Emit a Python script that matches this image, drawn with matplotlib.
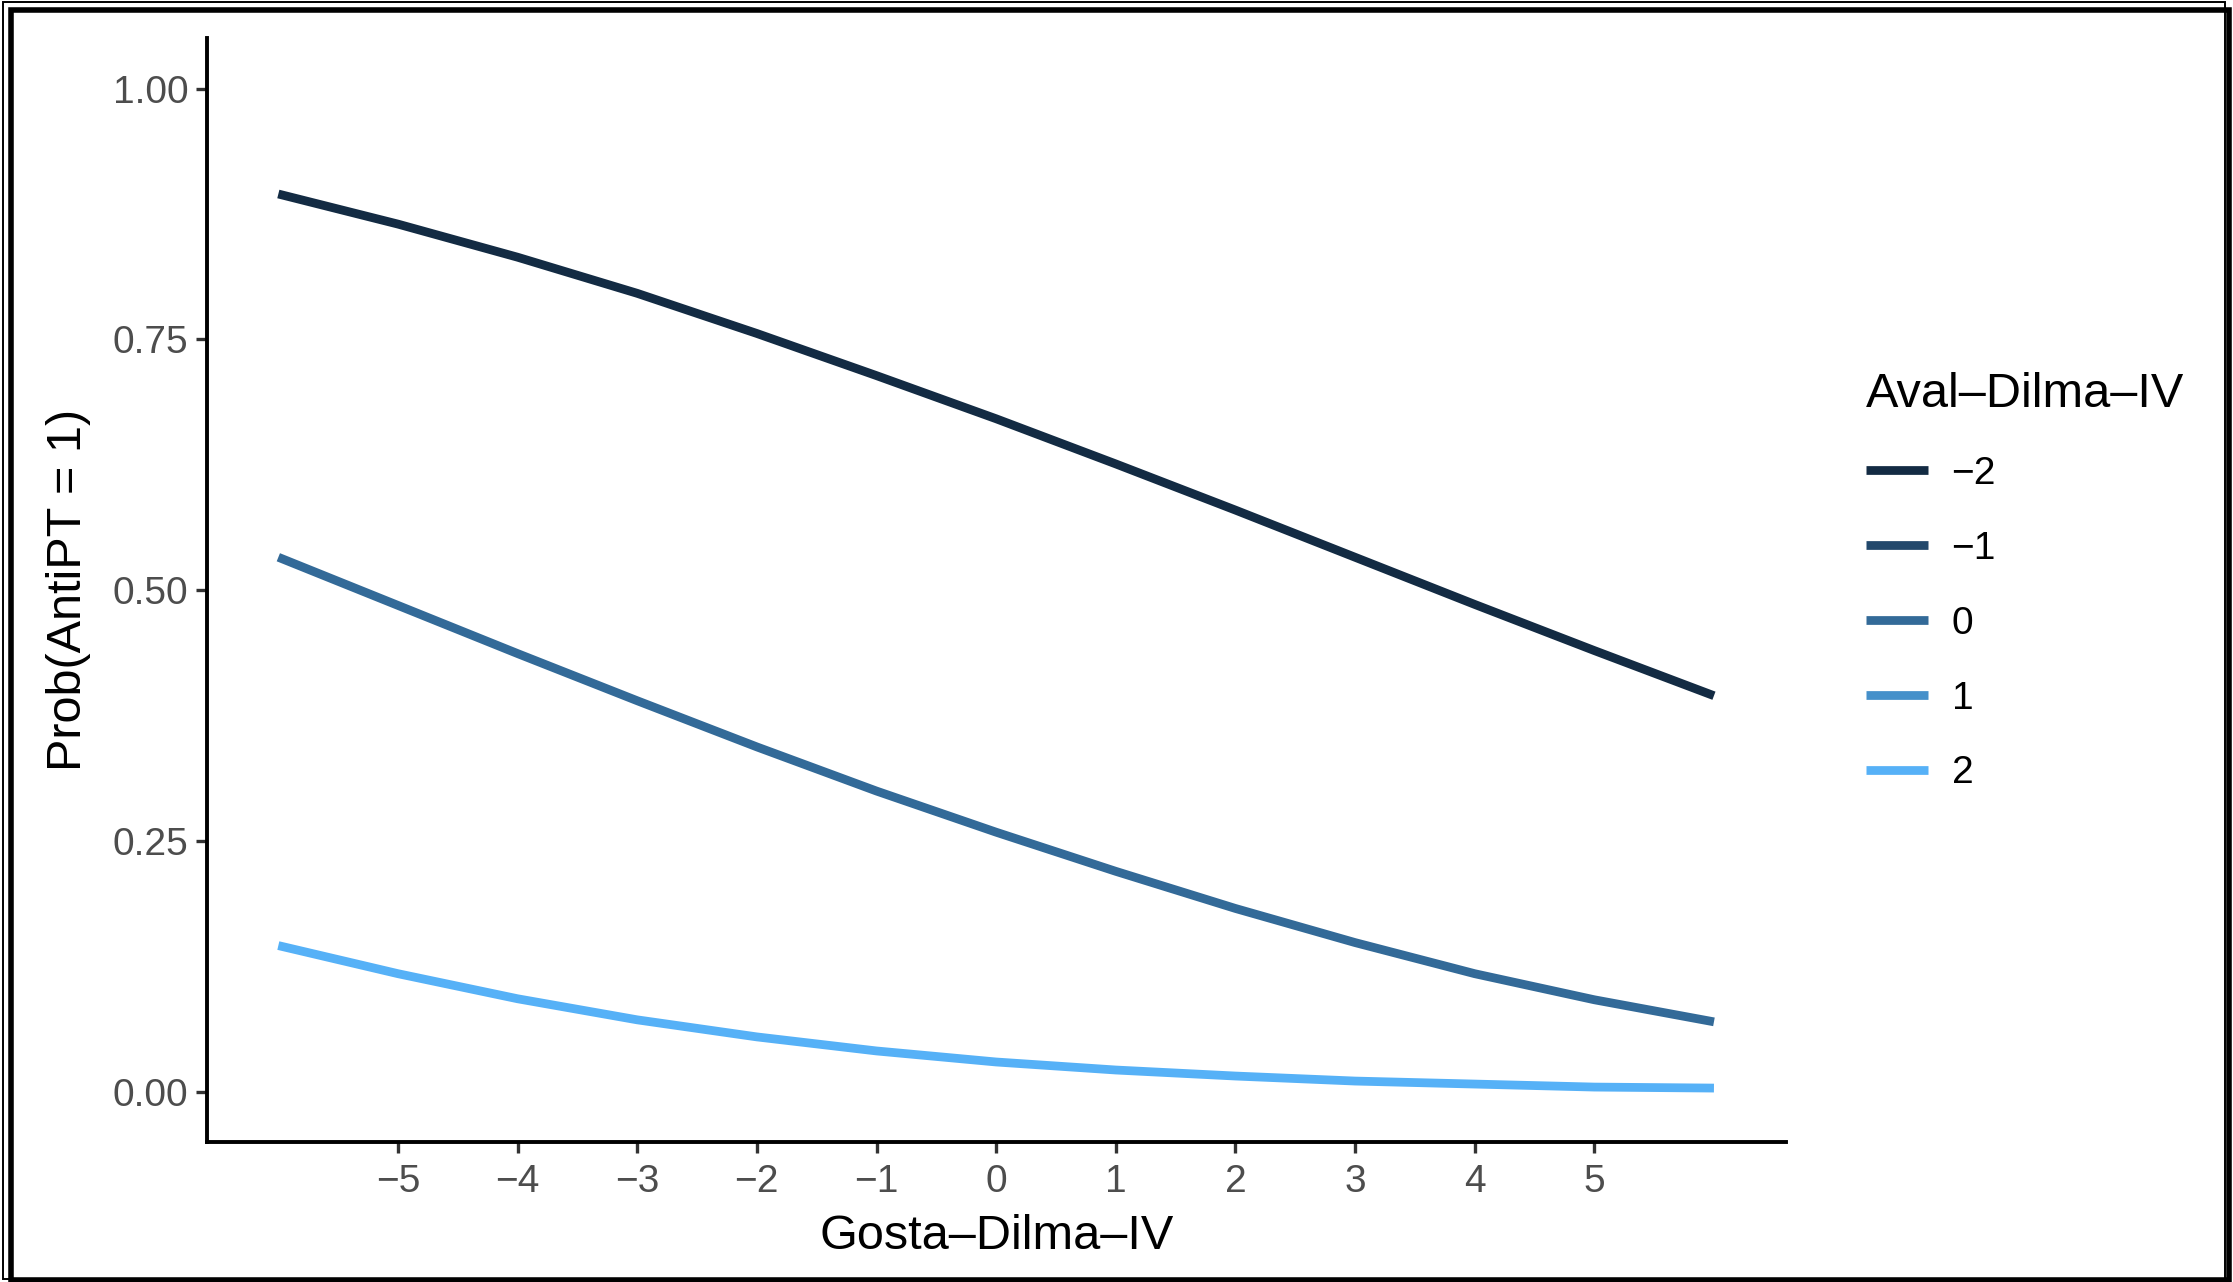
# encoding: utf-8

'''
predicted probability of AntiPT by Gosta-Dilma, for levels of Aval-Dilma
'''

import matplotlib
matplotlib.use('Agg')
import matplotlib.pyplot as plt
from matplotlib.lines import Line2D
from matplotlib.patches import Rectangle

# values
gosta = [-6, -5, -4, -3, -2, -1, 0, 1, 2, 3, 4, 5, 6]
prob_aval_m2 = [0.895, 0.865, 0.832, 0.796, 0.756, 0.714, 0.671, 0.626, 0.580, 0.533, 0.486, 0.440, 0.395]
prob_aval_0 = [0.533, 0.485, 0.437, 0.390, 0.344, 0.300, 0.259, 0.220, 0.183, 0.149, 0.118, 0.092, 0.070]
prob_aval_2 = [0.146, 0.118, 0.093, 0.072, 0.055, 0.041, 0.030, 0.022, 0.016, 0.011, 0.008, 0.005, 0.004]

aval_levels = ['\u22122', '\u22121', '0', '1', '2']
aval_colors = ['#132B43', '#22486C', '#336A98', '#4590CA', '#56B1F7']

x_ticks = [-5, -4, -3, -2, -1, 0, 1, 2, 3, 4, 5]
y_ticks = [0.00, 0.25, 0.50, 0.75, 1.00]

plt.rcParams['font.family'] = ['Liberation Sans', 'DejaVu Sans']

W, H = 2233, 1282
fig = plt.figure(figsize=(W / 100, H / 100), dpi=100)
ax = fig.add_axes([0.0925, 0.109, 0.7072, 0.861])

lw = 6.3
ax.plot(gosta, prob_aval_m2, color=aval_colors[0], lw=lw, solid_capstyle='butt', solid_joinstyle='round')
ax.plot(gosta, prob_aval_0, color=aval_colors[2], lw=lw, solid_capstyle='butt', solid_joinstyle='round')
ax.plot(gosta, prob_aval_2, color=aval_colors[4], lw=lw, solid_capstyle='butt', solid_joinstyle='round')

ax.set_xlim(-6.6, 6.6)
ax.set_ylim(-0.05, 1.05)
ax.set_xticks(x_ticks)
ax.set_xticklabels([str(t).replace('-', '\u2212') for t in x_ticks])
ax.set_yticks(y_ticks)
ax.set_yticklabels(['{:.2f}'.format(t) for t in y_ticks])

for side in ['top', 'right']:
    ax.spines[side].set_visible(False)
for side in ['left', 'bottom']:
    ax.spines[side].set_linewidth(2.8)
    ax.spines[side].set_color('black')
ax.tick_params(axis='both', length=8, width=2.4, color='#333333',
               labelsize=28, labelcolor='#4D4D4D')
ax.tick_params(axis='x', pad=8)
ax.tick_params(axis='y', pad=5)

ax.set_xlabel('Gosta\u2013Dilma\u2013IV', fontsize=35, color='black', labelpad=10)
ax.set_ylabel('Prob(AntiPT = 1)', fontsize=35, color='black', labelpad=16)

handles = [Line2D([0], [0], color=c, lw=lw, solid_capstyle='butt') for c in aval_colors]
leg = fig.legend(handles, aval_levels, title='Aval\u2013Dilma\u2013IV',
                 loc='upper left', bbox_to_anchor=(1866 / W, 1 - 372 / H),
                 frameon=False, fontsize=28, title_fontsize=35,
                 handlelength=1.6, handletextpad=0.6, labelspacing=1.0,
                 borderpad=0, borderaxespad=0)
leg._legend_box.align = 'left'

# double frame around the picture (pixel positions)
def frame(left, top, right, bottom, width):
    fig.patches.append(Rectangle((left / W, 1 - bottom / H), (right - left) / W,
                                 (bottom - top) / H, transform=fig.transFigure,
                                 fill=False, edgecolor='black', lw=width))

frame(3, 1.5, 2225, 1279, 1.4)
frame(11, 9.5, 2228.5, 1279.5, 4.0)

fig.savefig('out.png', dpi=100, facecolor='white')
